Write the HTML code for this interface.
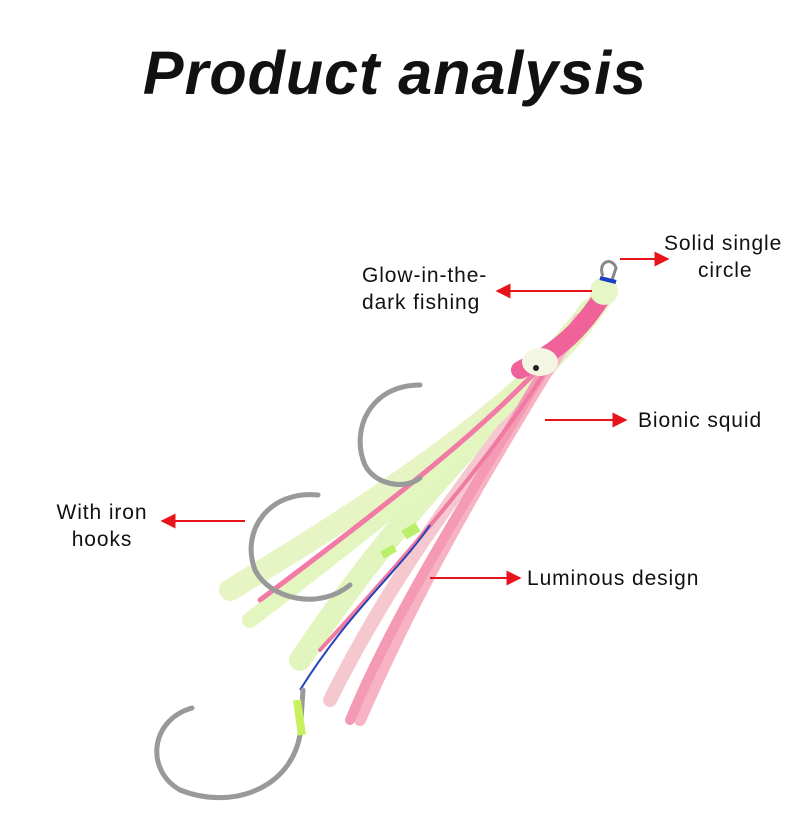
<!DOCTYPE html>
<html><head><meta charset="utf-8"><style>
html,body{margin:0;padding:0;background:#fff;}
body{width:790px;height:821px;position:relative;overflow:hidden;font-family:"Liberation Sans",sans-serif;}
h1{position:absolute;left:0;width:790px;top:38px;margin:0;text-align:center;font-size:61px;font-weight:bold;font-style:italic;color:#111;letter-spacing:1px;}
.l{position:absolute;font-size:21px;line-height:27px;color:#111;letter-spacing:0.9px;}
svg{position:absolute;left:0;top:0;}
</style></head><body>
<h1>Product analysis</h1>
<svg width="790" height="821" viewBox="0 0 790 821">
<defs>
<marker id="a" viewBox="0 0 10 10" refX="9" refY="5" markerWidth="16" markerHeight="15" orient="auto-start-reverse" markerUnits="userSpaceOnUse"><path d="M0,0L10,5L0,10z" fill="#e8141b"/></marker>
</defs>
<g fill="none" stroke-linecap="round">
<path d="M600,300 C560,360 480,440 230,590" stroke="#e6f5c3" stroke-width="22"/>
<path d="M590,310 C540,380 420,480 300,660" stroke="#e2f5bf" stroke-width="22"/>
<path d="M580,320 C520,420 420,520 330,700" stroke="#f5c8cf" stroke-width="14"/>
<path d="M570,330 C500,430 380,520 250,620" stroke="#e3f6c0" stroke-width="16"/>
<path d="M560,350 C500,450 430,560 360,720" stroke="#f7b2c3" stroke-width="12"/>
<path d="M550,360 C480,480 400,600 350,720" stroke="#f49ab5" stroke-width="10"/>
<path d="M580,320 C520,400 420,480 260,600" stroke="#f27aa4" stroke-width="5"/>
<path d="M570,330 C520,420 440,520 320,650" stroke="#f07aa2" stroke-width="4"/>
<path d="M600,300 C580,330 560,350 520,370" stroke="#f0629a" stroke-width="18"/>
</g>
<ellipse cx="540" cy="362" rx="18" ry="14" fill="#f3f6e2"/>
<circle cx="536" cy="368" r="3" fill="#222"/>
<circle cx="604" cy="291" r="14" fill="#e6f6c6"/>
<path d="M603,276 C597,262 612,256 616,268 L612,280" fill="none" stroke="#888" stroke-width="3"/>
<path d="M600,278 L616,282" stroke="#1a3ec0" stroke-width="4"/>
<path d="M430,525 C400,570 350,610 300,690" fill="none" stroke="#2744b8" stroke-width="2"/>
<g fill="none" stroke="#999" stroke-width="5" stroke-linecap="round">
<path d="M420,385 C370,385 350,430 365,465 C375,485 405,490 420,478"/>
<path d="M318,495 C270,490 240,530 255,570 C270,600 320,610 350,585"/>
<path d="M192,708 C150,720 145,770 180,790 C230,810 290,790 300,735"/>
<path d="M300,735 L303,690"/>
</g>
<path d="M404,535 L418,527" stroke="#b8f06a" stroke-width="10"/>
<path d="M382,555 L395,548" stroke="#b8f06a" stroke-width="8"/>
<path d="M297,700 L302,735" stroke="#c7f25e" stroke-width="8"/>
<g stroke="#e8141b" stroke-width="2" fill="none">
<line x1="620" y1="259" x2="668" y2="259" marker-end="url(#a)"/>
<line x1="592" y1="291" x2="497" y2="291" marker-end="url(#a)"/>
<line x1="545" y1="420" x2="626" y2="420" marker-end="url(#a)"/>
<line x1="245" y1="521" x2="162" y2="521" marker-end="url(#a)"/>
<line x1="430" y1="578" x2="520" y2="578" marker-end="url(#a)"/>
</g>
</svg>
<div class="l" style="left:664px;top:230px;">Solid single<br><span style="padding-left:34px">circle</span></div>
<div class="l" style="left:362px;top:262px;">Glow-in-the-<br>dark fishing</div>
<div class="l" style="left:638px;top:407px;">Bionic squid</div>
<div class="l" style="left:48px;top:499px;text-align:center;width:108px;">With iron<br>hooks</div>
<div class="l" style="left:527px;top:565px;">Luminous design</div>
</body></html>
